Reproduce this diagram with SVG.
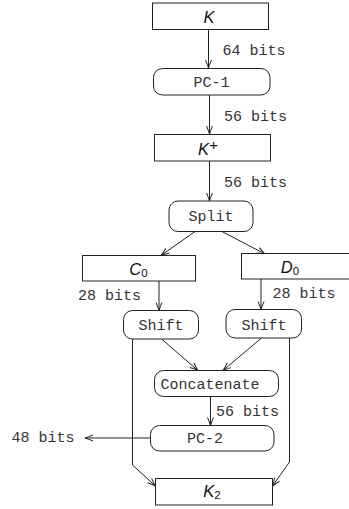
<svg xmlns="http://www.w3.org/2000/svg" width="349" height="509" viewBox="0 0 349 509">
<style>
.box{fill:#fff;stroke:#222;stroke-width:1}
.ln{fill:none;stroke:#222;stroke-width:1}
.mono{font-family:"Liberation Mono",monospace;font-size:15px;fill:#333}
.math{font-family:"Liberation Sans",Arial,sans-serif;font-style:italic;fill:#111}
.sub{font-style:normal}
</style>
<defs>
<marker id="ah" markerWidth="12" markerHeight="10" viewBox="-10 -5 12 10" refX="0" refY="0" orient="auto" markerUnits="userSpaceOnUse">
<path d="M-8,-3 Q-3,-0.8 0,0 Q-3,0.8 -8,3" fill="none" stroke="#222" stroke-width="1"/>
</marker>
</defs>
<g id="connectors">
<line class="ln" x1="208.5" y1="29.5" x2="208.5" y2="68" marker-end="url(#ah)"/>
<line class="ln" x1="209.5" y1="95" x2="209.5" y2="134" marker-end="url(#ah)"/>
<line class="ln" x1="209.5" y1="161" x2="209.5" y2="201" marker-end="url(#ah)"/>
<line class="ln" x1="195" y1="231.5" x2="161" y2="255.5" marker-end="url(#ah)"/>
<line class="ln" x1="222" y1="231.5" x2="265" y2="254" marker-end="url(#ah)"/>
<line class="ln" x1="159" y1="281" x2="159" y2="310.5" marker-end="url(#ah)"/>
<line class="ln" x1="261" y1="279" x2="261" y2="309.5" marker-end="url(#ah)"/>
<line class="ln" x1="161.5" y1="339" x2="198" y2="370.5" marker-end="url(#ah)"/>
<line class="ln" x1="261.5" y1="338" x2="223" y2="370.5" marker-end="url(#ah)"/>
<line class="ln" x1="210.5" y1="396.5" x2="210.5" y2="425.5" marker-end="url(#ah)"/>
<line class="ln" x1="150.5" y1="438" x2="85" y2="438" marker-end="url(#ah)"/>
<polyline class="ln" points="132.5,339 132.5,465 155.5,486" marker-end="url(#ah)"/>
<polyline class="ln" points="289.5,338 289.5,462 272.5,486" marker-end="url(#ah)"/>
<text class="mono" x="222.5" y="55">64 bits</text>
<text class="mono" x="224" y="121">56 bits</text>
<text class="mono" x="224" y="187">56 bits</text>
<text class="mono" x="78" y="300">28 bits</text>
<text class="mono" x="272.5" y="298">28 bits</text>
<text class="mono" x="216" y="416">56 bits</text>
<text class="mono" x="11.5" y="442">48 bits</text>
</g>
<g id="K">
<rect class="box" x="152.5" y="3" width="116" height="26.5"/>
<text class="math" font-size="16.5" x="209" y="22.5" text-anchor="middle">K</text>
</g>
<g id="PC1">
<rect class="box" x="153.5" y="68.5" width="116.5" height="26.5" rx="9"/>
<text class="mono" x="211.5" y="87" text-anchor="middle">PC-1</text>
</g>
<g id="Kplus">
<rect class="box" x="154.5" y="134.5" width="116" height="26.5"/>
<text class="math" font-size="16.5" x="208" y="155" text-anchor="middle">K<tspan class="sub" font-size="15" dy="-5">+</tspan></text>
</g>
<g id="Split">
<rect class="box" x="169" y="201" width="84" height="30.5" rx="9"/>
<text class="mono" x="211" y="221" text-anchor="middle">Split</text>
</g>
<g id="C0">
<rect class="box" x="82.5" y="255.5" width="113" height="25.5"/>
<text class="math" font-size="16.5" x="138.5" y="274.5" text-anchor="middle">C<tspan class="sub" font-size="11.5" dy="2">0</tspan></text>
</g>
<g id="D0">
<rect class="box" x="241.5" y="253.5" width="110" height="25.5"/>
<text class="math" font-size="16.5" x="290" y="272.5" text-anchor="middle">D<tspan class="sub" font-size="11.5" dy="2">0</tspan></text>
</g>
<g id="ShiftC">
<rect class="box" x="123.5" y="310.5" width="75" height="28.5" rx="9"/>
<text class="mono" x="161" y="330" text-anchor="middle">Shift</text>
</g>
<g id="ShiftD">
<rect class="box" x="226" y="309.5" width="75.5" height="28.5" rx="9"/>
<text class="mono" x="264" y="329.5" text-anchor="middle">Shift</text>
</g>
<g id="Concatenate">
<rect class="box" x="154.5" y="370.5" width="124" height="26" rx="9"/>
<text class="mono" x="210" y="389" text-anchor="middle">Concatenate</text>
</g>
<g id="PC2">
<rect class="box" x="150.5" y="425.5" width="123.5" height="25.5" rx="9"/>
<text class="mono" x="205" y="442.5" text-anchor="middle">PC-2</text>
</g>
<g id="K2">
<rect class="box" x="155.5" y="478.5" width="117" height="26.5"/>
<text class="math" font-size="16.5" x="212" y="497" text-anchor="middle">K<tspan class="sub" font-size="11.5" dy="2">2</tspan></text>
</g>
</svg>
